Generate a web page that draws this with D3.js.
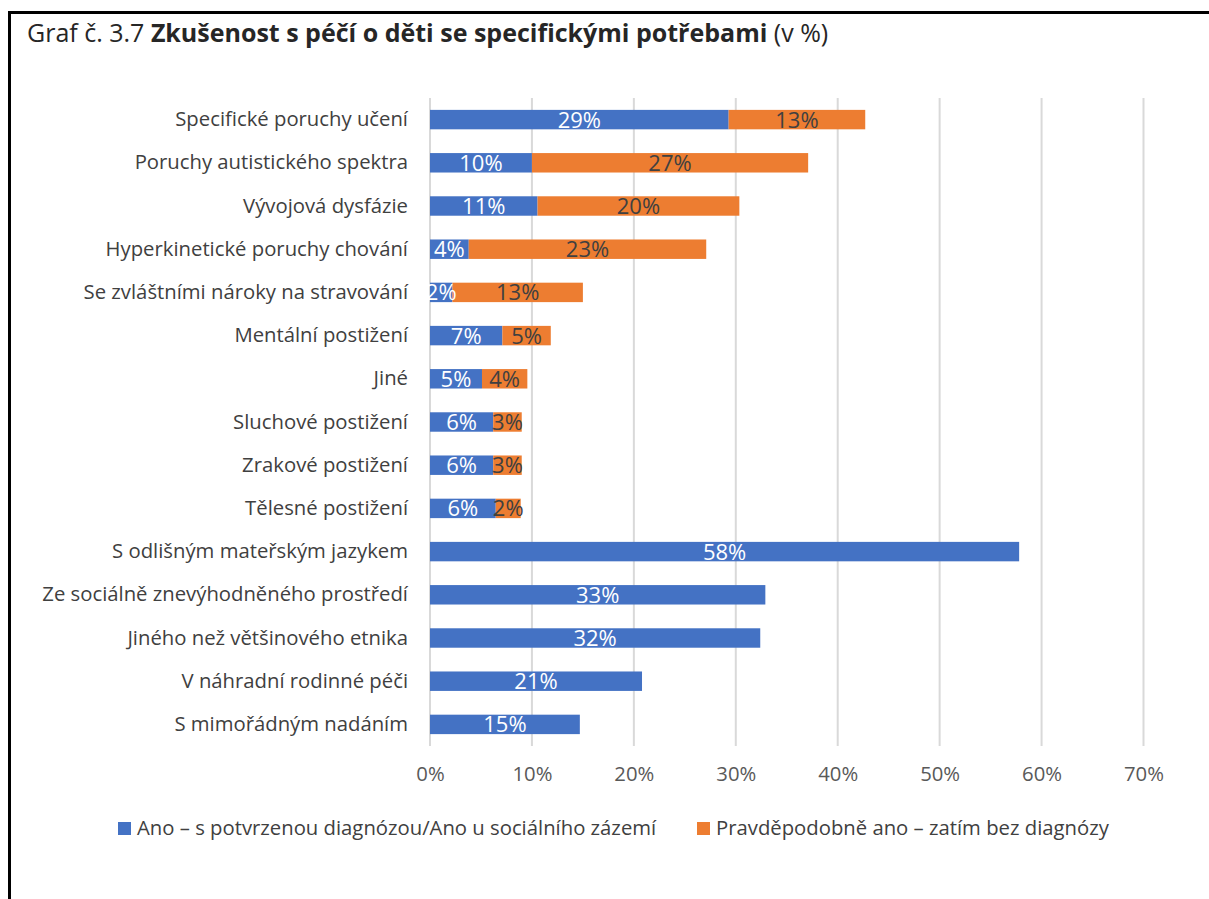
<!DOCTYPE html>
<html>
<head>
<meta charset="utf-8">
<script src="https://cdn.jsdelivr.net/npm/d3@7"></script>
<style>
  body { margin: 0; background: #fff; }
  svg text { font-family: "Open Sans", Lato, sans-serif; }
</style>
</head>
<body>
<script>
// categories top to bottom
var categories = [
  "Specifické poruchy učení",
  "Poruchy autistického spektra",
  "Vývojová dysfázie",
  "Hyperkinetické poruchy chování",
  "Se zvláštními nároky na stravování",
  "Mentální postižení",
  "Jiné",
  "Sluchové postižení",
  "Zrakové postižení",
  "Tělesné postižení",
  "S odlišným mateřským jazykem",
  "Ze sociálně znevýhodněného prostředí",
  "Jiného než většinového etnika",
  "V náhradní rodinné péči",
  "S mimořádným nadáním"
];
var confirmed = [29.3, 10.0, 10.55, 3.8, 2.2, 7.1, 5.1, 6.2, 6.2, 6.45, 57.8, 32.9, 32.4, 20.8, 14.7];
var probable  = [13.4, 27.1, 19.8, 23.3, 12.8, 4.75, 4.45, 2.8, 2.8, 2.45, 0, 0, 0, 0, 0];
var seriesNames = [
  "Ano – s potvrzenou diagnózou/Ano u sociálního zázemí",
  "Pravděpodobně ano – zatím bez diagnózy"
];
var xTicks = [0, 10, 20, 30, 40, 50, 60, 70];

var colors = ["#4472C4", "#ED7D31"];
var fs = "20.3px";
var valFs = "22px";

var width = 1209, height = 899;

var svg = d3.select("body").append("svg")
  .attr("width", width)
  .attr("height", height);

// frame (top and left lines)
svg.append("line")
  .attr("x1", 8).attr("x2", width).attr("y1", 12.5).attr("y2", 12.5)
  .attr("stroke", "#000").attr("stroke-width", 3);
svg.append("line")
  .attr("x1", 9.5).attr("x2", 9.5).attr("y1", 11).attr("y2", height)
  .attr("stroke", "#000").attr("stroke-width", 3);

// title
var title = svg.append("text")
  .attr("x", 27).attr("y", 42)
  .style("font-size", "25px")
  .attr("fill", "#262626");
title.append("tspan").text("Graf č. 3.7 ");
title.append("tspan").style("font-weight", "bold").text("Zkušenost s péčí o děti se specifickými potřebami");
title.append("tspan").text(" (v %)");

var x = d3.scaleLinear()
  .domain([0, 70])
  .range([430, 1143.5]);

var y = d3.scaleBand()
  .domain(categories)
  .range([98, 746])
  .paddingInner(0.55)
  .paddingOuter(0.275);

// gridlines
svg.append("g")
  .selectAll("line")
  .data(xTicks)
  .enter()
  .append("line")
  .attr("x1", function(d) { return x(d); })
  .attr("x2", function(d) { return x(d); })
  .attr("y1", 98)
  .attr("y2", 746)
  .attr("stroke", "#d9d9d9")
  .attr("stroke-width", 2);

// x axis labels
var xAxis = svg.append("g")
  .attr("transform", "translate(0,746)")
  .call(d3.axisBottom(x).tickValues(xTicks).tickSize(0).tickPadding(21)
    .tickFormat(function(d) { return d + "%"; }));
xAxis.select(".domain").remove();
xAxis.selectAll("text")
  .style("font-size", fs)
  .style("font-family", "'Open Sans', sans-serif")
  .attr("fill", "#595959");

// category labels
var yAxis = svg.append("g")
  .attr("transform", "translate(430,0)")
  .call(d3.axisLeft(y).tickSize(0).tickPadding(22));
yAxis.select(".domain").remove();
yAxis.selectAll("text")
  .style("font-size", fs)
  .style("font-family", "'Open Sans', sans-serif")
  .attr("fill", "#404040");

var rows = categories.map(function(c, i) {
  return { cat: c, a: confirmed[i], b: probable[i] };
});

// blue bars
svg.append("g").selectAll("rect")
  .data(rows)
  .enter()
  .append("rect")
  .attr("x", x(0))
  .attr("y", function(d) { return y(d.cat); })
  .attr("width", function(d) { return x(d.a) - x(0); })
  .attr("height", y.bandwidth())
  .attr("fill", colors[0]);

// orange bars
svg.append("g").selectAll("rect")
  .data(rows.filter(function(d) { return d.b > 0; }))
  .enter()
  .append("rect")
  .attr("x", function(d) { return x(d.a); })
  .attr("y", function(d) { return y(d.cat); })
  .attr("width", function(d) { return x(d.a + d.b) - x(d.a); })
  .attr("height", y.bandwidth())
  .attr("fill", colors[1]);

// value labels
svg.append("g").selectAll("text")
  .data(rows)
  .enter()
  .append("text")
  .attr("x", function(d) { return (x(0) + x(d.a)) / 2; })
  .attr("y", function(d) { return y(d.cat) + y.bandwidth() / 2; })
  .attr("dy", "0.36em")
  .attr("text-anchor", "middle")
  .style("font-size", valFs)
  .attr("fill", "#fff")
  .text(function(d) { return Math.round(d.a) + "%"; });

svg.append("g").selectAll("text")
  .data(rows.filter(function(d) { return d.b > 0; }))
  .enter()
  .append("text")
  .attr("x", function(d) { return (x(d.a) + x(d.a + d.b)) / 2; })
  .attr("y", function(d) { return y(d.cat) + y.bandwidth() / 2; })
  .attr("dy", "0.36em")
  .attr("text-anchor", "middle")
  .style("font-size", valFs)
  .attr("fill", "#404040")
  .text(function(d) { return Math.round(d.b) + "%"; });

// legend
var legendX = [118, 697];
var legend = svg.append("g").selectAll("g")
  .data(seriesNames)
  .enter()
  .append("g")
  .attr("transform", function(d, i) { return "translate(" + legendX[i] + ",822)"; });
legend.append("rect")
  .attr("width", 13).attr("height", 13)
  .attr("fill", function(d, i) { return colors[i]; });
legend.append("text")
  .attr("x", 19).attr("y", 13)
  .style("font-size", fs)
  .attr("fill", "#404040")
  .text(function(d) { return d; });
</script>
</body>
</html>
